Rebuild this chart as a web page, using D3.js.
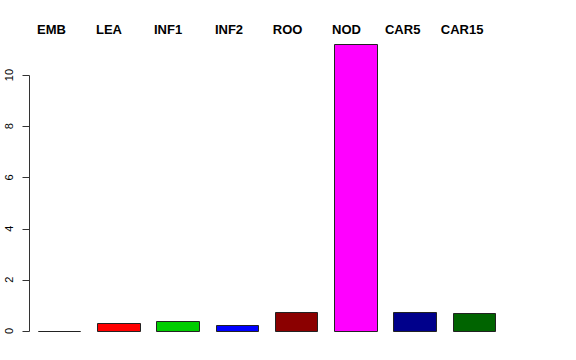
<!DOCTYPE html>
<html>
<head>
<meta charset="utf-8">
<script src="https://cdn.jsdelivr.net/npm/d3@7"></script>
<style>
  body { margin: 0; background: #fff; }
  svg { display: block; }
</style>
</head>
<body>
<div id="chart"></div>
<script>
// data
var tissues = ["EMB", "LEA", "INF1", "INF2", "ROO", "NOD", "CAR5", "CAR15"];
var values = [0.0, 0.31, 0.40, 0.24, 0.74, 11.2, 0.74, 0.70];
var barColors = ["#ffffff", "#ff0000", "#00cd00", "#0000ff", "#8b0000", "#ff00ff", "#00008b", "#006400"];
// label left edges, in barplot x units
var labelAt = [0.376, 1.77, 3.14, 4.58, 5.95, 7.35, 8.6, 9.92];
var yTicks = [0, 2, 4, 6, 8, 10];

var width = 576, height = 360;
var barSpace = 0.4, barWidth = 1;

var svg = d3.select("#chart").append("svg")
    .attr("width", width)
    .attr("height", height);

// R style barplot coordinates: bar i spans [0.4 + 1.4*i, 1.4 + 1.4*i]
var x = d3.scaleLinear()
    .domain([barSpace, tissues.length * (barWidth + barSpace)])
    .range([38, 495]);

var y = d3.scaleLinear()
    .domain([0, 10])
    .range([331, 75]);

// bars (paths so a zero height bar still shows its outline)
svg.selectAll("path.bar")
    .data(values)
    .enter()
    .append("path")
    .attr("class", "bar")
    .attr("d", function(d, i) {
      var x0 = Math.round(x(barSpace + i * (barWidth + barSpace))) + 0.5;
      var x1 = Math.round(x(barSpace + i * (barWidth + barSpace) + barWidth)) + 0.5;
      var y0 = Math.round(y(0)) + 0.5;
      var y1 = Math.round(y(d)) + 0.5;
      return "M" + x0 + "," + y0 + "H" + x1 + "V" + y1 + "H" + x0 + "Z";
    })
    .style("fill", function(d, i) { return barColors[i]; })
    .style("stroke", "#222")
    .style("stroke-width", 1);

// y axis
var axis = svg.append("g")
    .attr("transform", "translate(29.5,0)");

axis.append("line")
    .attr("x1", 0).attr("x2", 0)
    .attr("y1", Math.round(y(0)) + 0.5)
    .attr("y2", Math.round(y(10)) + 0.5)
    .style("stroke", "#333");

axis.selectAll("line.tick")
    .data(yTicks)
    .enter()
    .append("line")
    .attr("class", "tick")
    .attr("x1", -7).attr("x2", 0)
    .attr("y1", function(d) { return Math.round(y(d)) + 0.5; })
    .attr("y2", function(d) { return Math.round(y(d)) + 0.5; })
    .style("stroke", "#333");

axis.selectAll("text")
    .data(yTicks)
    .enter()
    .append("text")
    .attr("transform", function(d) { return "translate(-17," + y(d) + ") rotate(-90)"; })
    .attr("text-anchor", "middle")
    .style("font", "11px 'Liberation Sans', Arial, sans-serif")
    .style("fill", "#000")
    .text(function(d) { return d; });

// tissue labels along the top
svg.selectAll("text.label")
    .data(tissues)
    .enter()
    .append("text")
    .attr("class", "label")
    .attr("x", function(d, i) { return x(labelAt[i]); })
    .attr("y", 34)
    .style("font", "bold 13px 'Liberation Sans', Arial, sans-serif")
    .style("fill", "#000")
    .text(function(d) { return d; });
</script>
</body>
</html>
